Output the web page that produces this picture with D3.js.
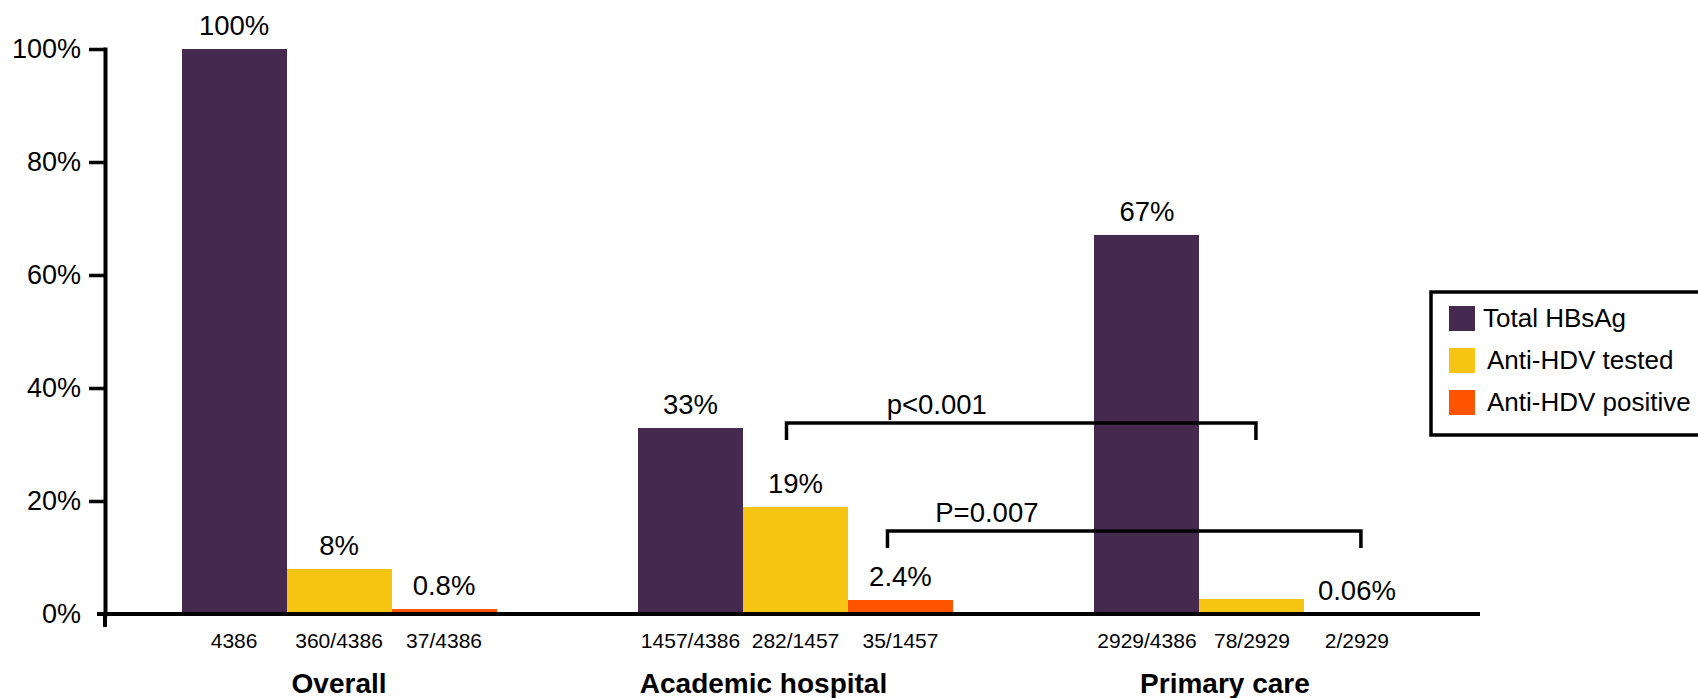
<!DOCTYPE html>
<html>
<head>
<meta charset="utf-8">
<script src="https://cdn.jsdelivr.net/npm/d3@7"></script>
<style>
  html, body { margin: 0; padding: 0; background: #fff; }
  svg { display: block; font-family: "Liberation Sans", Arial, Helvetica, sans-serif; }
</style>
</head>
<body>
<svg id="chart" width="1698" height="698"></svg>
<script>
// ---- data ----
const categories = ["Overall", "Academic hospital", "Primary care"];
const seriesNames = ["Total HBsAg", "Anti-HDV tested", "Anti-HDV positive"];

// percentages per category
const totalHBsAg = [100, 33, 67];
const antiHdvTested = [8, 19, 2.66];
const antiHdvPositive = [0.8, 2.4, 0.06];

// percentage labels above bars (null = no label)
const labelsHBsAg = ["100%", "33%", "67%"];
const labelsTested = ["8%", "19%", null];
const labelsPositive = ["0.8%", "2.4%", "0.06%"];

// counts printed under each bar
const countsHBsAg = ["4386", "1457/4386", "2929/4386"];
const countsTested = ["360/4386", "282/1457", "78/2929"];
const countsPositive = ["37/4386", "35/1457", "2/2929"];

const yTickValues = [0, 20, 40, 60, 80, 100];

// significance brackets between settings (series index, height in %)
const comparisons = [
  { text: "p<0.001", series: 1, from: "Academic hospital", to: "Primary care", level: 33.8 },
  { text: "P=0.007", series: 2, from: "Academic hospital", to: "Primary care", level: 14.7 }
];

// ---- styling ----
const colors = ["#45294f", "#f6c413", "#fe5400"];
const categoryLabelShift = [0, -32, -27];
const bracketStyle = [
  { nudgeFrom: -9, nudgeTo: 4, textPos: 0.32 },
  { nudgeFrom: -13, nudgeTo: 4, textPos: 0.21 }
];

const seriesValues = [totalHBsAg, antiHdvTested, antiHdvPositive];
const seriesLabels = [labelsHBsAg, labelsTested, labelsPositive];
const seriesCounts = [countsHBsAg, countsTested, countsPositive];

const rows = categories.map((c, i) => ({
  category: c,
  bars: seriesNames.map((s, j) => ({
    series: j,
    value: seriesValues[j][i],
    label: seriesLabels[j][i],
    count: seriesCounts[j][i]
  }))
}));

const svg = d3.select("#chart");

const y = d3.scaleLinear().domain([0, 100]).range([614, 49]);
const x0 = d3.scaleBand().domain(categories).range([104, 1487])
  .paddingInner(0.31).paddingOuter(0.17);
const x1 = d3.scaleBand().domain(d3.range(seriesNames.length)).range([0, x0.bandwidth()]);

const barCx = (cat, j) => x0(cat) + x1(j) + x1.bandwidth() / 2;

// bars
const groups = svg.append("g").selectAll("g")
  .data(rows).join("g")
  .attr("transform", d => `translate(${x0(d.category)},0)`);

groups.selectAll("rect")
  .data(d => d.bars).join("rect")
  .attr("x", d => x1(d.series))
  .attr("y", d => y(d.value))
  .attr("width", x1.bandwidth())
  .attr("height", d => y(0) - y(d.value))
  .attr("fill", d => colors[d.series])
  .attr("shape-rendering", "crispEdges");

// percentage labels
groups.selectAll("text.val")
  .data(d => d.bars.filter(b => b.label)).join("text")
  .attr("class", "val")
  .attr("x", d => x1(d.series) + x1.bandwidth() / 2)
  .attr("y", d => y(d.value) - 14)
  .attr("text-anchor", "middle")
  .attr("font-size", 27.5)
  .attr("fill", "#000")
  .text(d => d.label);

// counts under bars
groups.selectAll("text.count")
  .data(d => d.bars).join("text")
  .attr("class", "count")
  .attr("x", d => x1(d.series) + x1.bandwidth() / 2)
  .attr("y", 648)
  .attr("text-anchor", "middle")
  .attr("font-size", 21)
  .attr("fill", "#000")
  .text(d => d.count);

// category names
svg.append("g").selectAll("text")
  .data(categories).join("text")
  .attr("x", (d, i) => x0(d) + x0.bandwidth() / 2 + categoryLabelShift[i])
  .attr("y", 693)
  .attr("text-anchor", "middle")
  .attr("font-size", 28)
  .attr("font-weight", "bold")
  .attr("fill", "#000")
  .text(d => d);

// y axis
const yAxis = svg.append("g")
  .attr("transform", "translate(105,0)")
  .call(d3.axisLeft(y)
    .tickValues(yTickValues)
    .tickFormat(d => d + "%")
    .tickSize(16)
    .tickSizeOuter(0)
    .tickPadding(8));
yAxis.select(".domain").attr("stroke", "#000").attr("stroke-width", 4).attr("stroke-linecap", "square");
yAxis.selectAll(".tick line").attr("stroke", "#000").attr("stroke-width", 3.5);
yAxis.selectAll(".tick").filter(d => d === 0).select("line").remove();
yAxis.selectAll(".tick text")
  .attr("font-size", 27)
  .attr("font-family", "Liberation Sans, Arial, sans-serif")
  .attr("fill", "#000");
yAxis.append("line")
  .attr("x1", 0).attr("x2", 0)
  .attr("y1", y(0)).attr("y2", y(0) + 13)
  .attr("stroke", "#000").attr("stroke-width", 4);

// x baseline
svg.append("line")
  .attr("x1", 97).attr("x2", 1480)
  .attr("y1", y(0)).attr("y2", y(0))
  .attr("stroke", "#000").attr("stroke-width", 4);

// significance brackets
comparisons.forEach((c, i) => {
  const st = bracketStyle[i];
  const xa = barCx(c.from, c.series) + st.nudgeFrom;
  const xb = barCx(c.to, c.series) + st.nudgeTo;
  const yl = y(c.level);
  svg.append("path")
    .attr("d", `M${xa},${yl + 17}V${yl}H${xb}V${yl + 17}`)
    .attr("fill", "none")
    .attr("stroke", "#000")
    .attr("stroke-width", 3.5);
  svg.append("text")
    .attr("x", xa + (xb - xa) * st.textPos)
    .attr("y", yl - 9)
    .attr("text-anchor", "middle")
    .attr("font-size", 27.5)
    .attr("fill", "#000")
    .text(c.text);
});

// legend
const legend = svg.append("g").attr("transform", "translate(1431,292)");
legend.append("rect")
  .attr("x", 0).attr("y", 0)
  .attr("width", 320).attr("height", 143)
  .attr("fill", "#fff")
  .attr("stroke", "#000")
  .attr("stroke-width", 3.5);
const items = legend.selectAll("g.item")
  .data(seriesNames).join("g")
  .attr("class", "item")
  .attr("transform", (d, i) => `translate(18,${14 + i * 42})`);
items.append("rect")
  .attr("width", 26).attr("height", 25)
  .attr("fill", (d, i) => colors[i]);
items.append("text")
  .attr("x", (d, i) => i === 0 ? 34 : 38)
  .attr("y", 21)
  .attr("font-size", 26)
  .attr("fill", "#000")
  .text(d => d);
</script>
</body>
</html>
